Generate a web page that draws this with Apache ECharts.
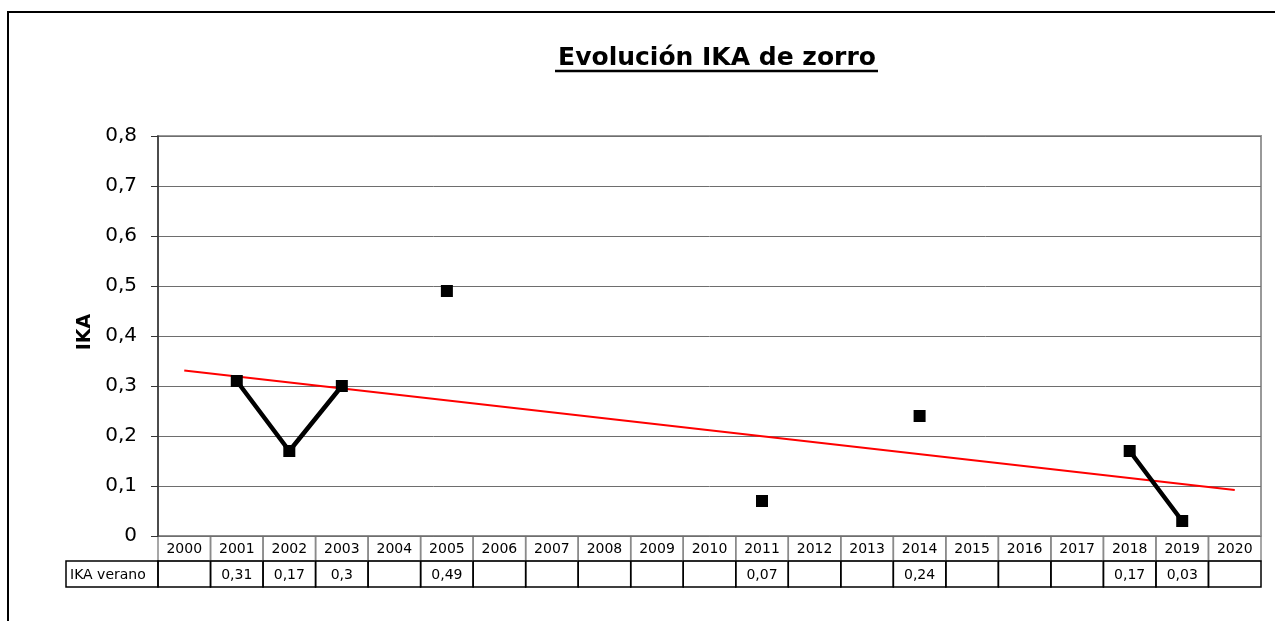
<!DOCTYPE html>
<html>
<head>
<meta charset="utf-8">
<script src="https://cdn.jsdelivr.net/npm/echarts@6/dist/echarts.min.js"></script>
<style>
  html, body { margin: 0; padding: 0; background: #fff; }
  #chart { width: 1275px; height: 621px; }
</style>
</head>
<body>
<div id="chart"></div>
<script>
const years = ['2000','2001','2002','2003','2004','2005','2006','2007','2008','2009','2010',
               '2011','2012','2013','2014','2015','2016','2017','2018','2019','2020'];
const ikaVerano = [null, 0.31, 0.17, 0.3, null, 0.49, null, null, null, null, null,
                   0.07, null, null, 0.24, null, null, null, 0.17, 0.03, null];
// trend line: value at 2000 and at 2020
const trendEnds = [0.331, 0.092];
const yTicks = [0, 0.1, 0.2, 0.3, 0.4, 0.5, 0.6, 0.7, 0.8];
const rowLabel = 'IKA verano';

const font = "'DejaVu Sans', 'Liberation Sans', Arial, sans-serif";
const G = { left: 158, right: 14, top: 136, bottom: 85 };
const plotW = 1275 - G.left - G.right;
const cellW = plotW / years.length;
const yAxisBottom = 621 - G.bottom;
const row1 = yAxisBottom, row2 = yAxisBottom + 25, row3 = yAxisBottom + 51;

const trendData = years.map((y, i) => i === 0 ? trendEnds[0] : (i === years.length - 1 ? trendEnds[1] : null));
const fmt = v => v == null ? '' : String(v).replace('.', ',');

const chart = echarts.init(document.getElementById('chart'));

// table drawn below the plot
const table = [];
years.forEach((yr, i) => {
  const x = G.left + i * cellW;
  table.push({ type: 'rect', shape: { x: x, y: row1, width: cellW, height: row2 - row1 },
    style: { fill: 'none', stroke: '#8a8a8a', lineWidth: 1.5 } });
  table.push({ type: 'text', x: x + cellW / 2, y: (row1 + row2) / 2 + 1,
    style: { text: yr, font: '14px ' + font, fill: '#000', align: 'center', verticalAlign: 'middle' } });
  table.push({ type: 'rect', shape: { x: x, y: row2, width: cellW, height: row3 - row2 },
    style: { fill: 'none', stroke: '#000', lineWidth: 1.5 } });
  table.push({ type: 'text', x: x + cellW / 2, y: (row2 + row3) / 2 + 1,
    style: { text: fmt(ikaVerano[i]), font: '14px ' + font, fill: '#000', align: 'center', verticalAlign: 'middle' } });
});
table.push({ type: 'rect', shape: { x: 66, y: row2, width: G.left - 66, height: row3 - row2 },
  style: { fill: 'none', stroke: '#000', lineWidth: 1.5 } });
table.push({ type: 'text', x: 70, y: (row2 + row3) / 2 + 1,
  style: { text: rowLabel, font: '14px ' + font, fill: '#000', align: 'left', verticalAlign: 'middle' } });

chart.setOption({
  animation: false,
  backgroundColor: '#fff',
  title: {
    text: 'Evolución IKA de zorro',
    left: 712, top: 41, textAlign: 'center',
    textStyle: { fontFamily: font, fontSize: 25, fontWeight: 'bold', color: '#000' }
  },
  grid: { left: G.left, right: G.right, top: G.top, bottom: G.bottom, show: true,
          borderColor: '#999', borderWidth: 2, backgroundColor: '#fff' },
  xAxis: {
    type: 'category', data: years, boundaryGap: true,
    axisLine: { show: false }, axisTick: { show: false }, axisLabel: { show: false },
    splitLine: { show: false }
  },
  yAxis: {
    type: 'value', min: yTicks[0], max: yTicks[yTicks.length - 1], interval: 0.1,
    name: 'IKA', nameLocation: 'middle', nameGap: 62, nameRotate: 90,
    nameTextStyle: { fontFamily: font, fontSize: 19, fontWeight: 'bold', color: '#000', padding: [0, 0, 0, 8] },
    axisLine: { show: true, lineStyle: { color: '#333', width: 1.5 } },
    axisTick: { show: true, length: 7, lineStyle: { color: '#333', width: 1 } },
    axisLabel: { fontFamily: font, fontSize: 20, color: '#000', margin: 21,
                 formatter: v => String(Math.round(v * 10) / 10).replace('.', ',') },
    splitLine: { show: true, lineStyle: { color: '#6e6e6e', width: 1 } }
  },
  series: [
    {
      name: 'Tendencia', type: 'line', data: trendData, connectNulls: true,
      showSymbol: false, symbol: 'none', z: 3,
      lineStyle: { color: '#ff0000', width: 2 }
    },
    {
      name: 'IKA verano', type: 'line', data: ikaVerano, connectNulls: false,
      symbol: 'rect', symbolSize: 12, showAllSymbol: true, z: 4,
      itemStyle: { color: '#000' },
      lineStyle: { color: '#000', width: 4.5 }
    }
  ],
  graphic: [
    { type: 'rect', shape: { x: 8, y: 12, width: 1300, height: 660 },
      style: { fill: 'none', stroke: '#000', lineWidth: 2 }, z: 100 },
    { type: 'line', shape: { x1: 555, y1: 71, x2: 878, y2: 71 },
      style: { stroke: '#000', lineWidth: 2.5 } }
  ].concat(table)
});
</script>
</body>
</html>
